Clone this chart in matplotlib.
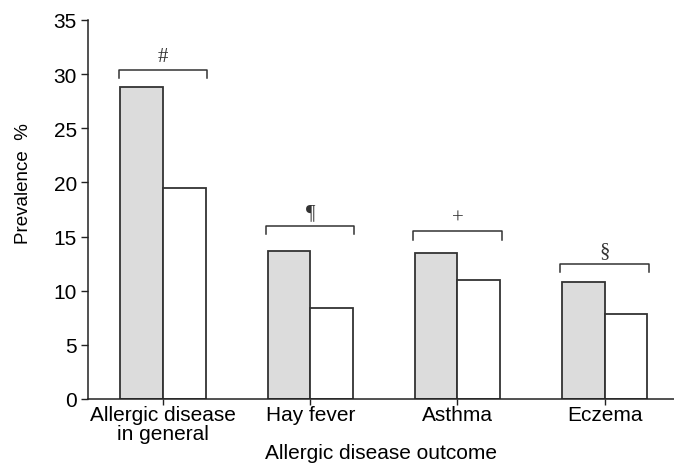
import numpy as np
import matplotlib.pyplot as plt

categories = ["Allergic disease\nin general", "Hay fever", "Asthma", "Eczema"]
group_a = [28.8, 13.7, 13.5, 10.8]
group_b = [19.5, 8.4, 11.0, 7.85]
markers = ["#", "\u00b6", "+", "\u00a7"]
bracket_y = [30.4, 16.0, 15.5, 12.5]

plt.rcParams["font.family"] = ["Liberation Sans", "DejaVu Sans"]

fig = plt.figure(figsize=(6.74, 4.64), dpi=100)
ax = fig.add_axes([0.1306, 0.138, 0.869, 0.817])

x = np.arange(len(categories))
w = 0.29
ax.bar(x - w / 2, group_a, w, color="#dcdcdc", edgecolor="#333333", linewidth=1.3)
ax.bar(x + w / 2, group_b, w, color="white", edgecolor="#333333", linewidth=1.3)

# significance brackets
for xi, by, m in zip(x, bracket_y, markers):
    left, right = xi - w - 0.01, xi + w + 0.01
    ax.plot([left, left, right, right], [by - 0.8, by, by, by - 0.8],
            color="#333333", lw=1.1, clip_on=False)
    ax.text(xi, by + 0.3, m, ha="center", va="bottom", fontsize=15,
            family=["Liberation Serif", "DejaVu Serif"], color="#333333")

ax.set_xlim(-0.51, 3.47)
ax.set_ylim(0, 35)
ax.set_yticks(range(0, 36, 5))
ax.set_xticks(x)
ax.set_xticklabels(categories, fontsize=15, linespacing=1.0)
ax.tick_params(axis="y", labelsize=15, length=5, width=1, color="#222222", pad=3)
ax.tick_params(axis="x", length=4, width=1, color="#222222", pad=0)

for s in ["top", "right"]:
    ax.spines[s].set_visible(False)
for s in ["left", "bottom"]:
    ax.spines[s].set_linewidth(1.1)
    ax.spines[s].set_color("#222222")

ax.set_xlabel("Allergic disease outcome", fontsize=15, labelpad=0)
ax.set_ylabel("Prevalence  %", fontsize=13.5)
ax.yaxis.set_label_coords(-0.096, 0.57)

fig.savefig("out.png", dpi=100)
